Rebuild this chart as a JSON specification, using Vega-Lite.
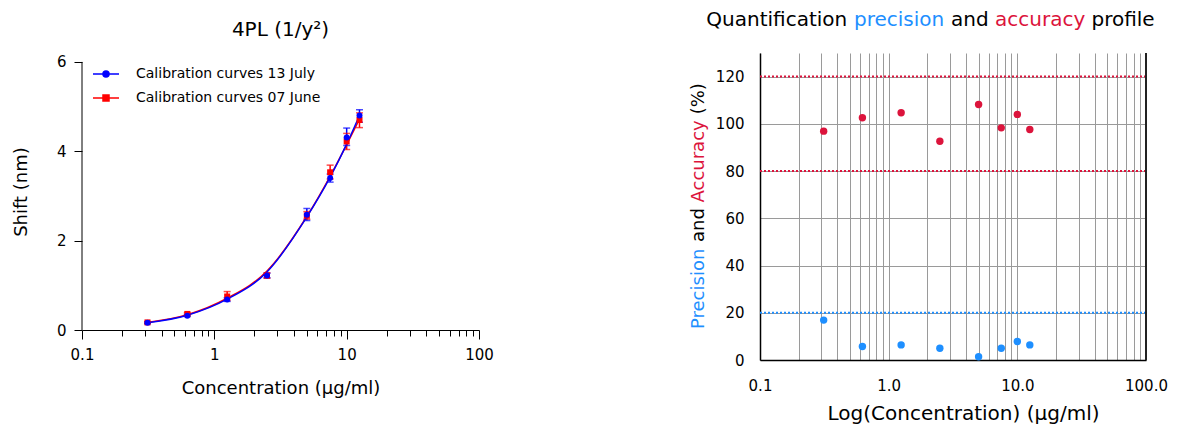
{
  "$schema": "https://vega.github.io/schema/vega-lite/v6.json",
  "padding": {"left": 12, "top": 10, "right": 5, "bottom": 5},
  "spacing": 195,
  "resolve": {"scale": {"color": "independent"}, "legend": {"color": "independent"}},
  "config": {
    "font": "DejaVu Sans",
    "view": {"stroke": null},
    "axis": {"labelFont": "DejaVu Sans", "titleFont": "DejaVu Sans", "labelColor": "#000", "titleColor": "#000", "titleFontWeight": "normal", "domainColor": "#000", "tickColor": "#000"},
    "legend": {"labelFont": "DejaVu Sans"}
  },
  "datasets": {
    "calib": [
      {"series": "Calibration curves 07 June", "conc": 0.3125, "shift": 0.17, "lo": 0.15, "hi": 0.19, "fit": 0.17},
      {"series": "Calibration curves 07 June", "conc": 0.625, "shift": 0.36, "lo": 0.33, "hi": 0.39, "fit": 0.34},
      {"series": "Calibration curves 07 June", "conc": 1.25, "shift": 0.75, "lo": 0.66, "hi": 0.86, "fit": 0.71},
      {"series": "Calibration curves 07 June", "conc": 2.5, "shift": 1.22, "lo": 1.16, "hi": 1.28, "fit": 1.32},
      {"series": "Calibration curves 07 June", "conc": 5, "shift": 2.56, "lo": 2.48, "hi": 2.65, "fit": 2.54},
      {"series": "Calibration curves 07 June", "conc": 7.5, "shift": 3.53, "lo": 3.38, "hi": 3.69, "fit": 3.44},
      {"series": "Calibration curves 07 June", "conc": 10, "shift": 4.22, "lo": 4.04, "hi": 4.40, "fit": 4.15},
      {"series": "Calibration curves 07 June", "conc": 12.5, "shift": 4.70, "lo": 4.53, "hi": 4.86, "fit": 4.72},
      {"series": "Calibration curves 13 July", "conc": 0.3125, "shift": 0.16, "lo": 0.14, "hi": 0.18, "fit": 0.16},
      {"series": "Calibration curves 13 July", "conc": 0.625, "shift": 0.32, "lo": 0.30, "hi": 0.35, "fit": 0.33},
      {"series": "Calibration curves 13 July", "conc": 1.25, "shift": 0.68, "lo": 0.64, "hi": 0.72, "fit": 0.69},
      {"series": "Calibration curves 13 July", "conc": 2.5, "shift": 1.22, "lo": 1.17, "hi": 1.27, "fit": 1.30},
      {"series": "Calibration curves 13 July", "conc": 5, "shift": 2.58, "lo": 2.45, "hi": 2.72, "fit": 2.53},
      {"series": "Calibration curves 13 July", "conc": 7.5, "shift": 3.40, "lo": 3.31, "hi": 3.49, "fit": 3.42},
      {"series": "Calibration curves 13 July", "conc": 10, "shift": 4.31, "lo": 4.13, "hi": 4.52, "fit": 4.16},
      {"series": "Calibration curves 13 July", "conc": 12.5, "shift": 4.80, "lo": 4.65, "hi": 4.93, "fit": 4.80}
    ],
    "profile": [
      {"conc": 0.3125, "accuracy": 96.9, "precision": 16.9},
      {"conc": 0.625, "accuracy": 102.6, "precision": 5.7},
      {"conc": 1.25, "accuracy": 104.7, "precision": 6.4},
      {"conc": 2.5, "accuracy": 92.6, "precision": 5.0},
      {"conc": 5, "accuracy": 108.2, "precision": 1.4},
      {"conc": 7.5, "accuracy": 98.3, "precision": 5.0},
      {"conc": 10, "accuracy": 104.0, "precision": 7.8},
      {"conc": 12.5, "accuracy": 97.6, "precision": 6.4}
    ],
    "limits": [
      {"limit": 120, "kind": "accuracy"},
      {"limit": 80, "kind": "accuracy"},
      {"limit": 20, "kind": "precision"}
    ],
    "one": [{}]
  },
  "hconcat": [
    {
      "width": 397,
      "height": 277,
      "title": {"text": "4PL (1/y²)", "fontSize": 20, "fontWeight": "normal", "frame": "group", "anchor": "middle", "offset": 13, "font": "DejaVu Sans", "color": "#000"},
      "data": {"name": "calib"},
      "layer": [
        {
          "data": {"name": "one"},
          "mark": {"type": "rule", "color": "#000", "strokeWidth": 1},
          "encoding": {
            "x": {"datum": 0.1, "type": "quantitative", "scale": {"type": "log", "domain": [0.1, 100], "nice": false}},
            "y": {"datum": 0, "type": "quantitative"},
            "y2": {"datum": 6}
          }
        },
        {
          "mark": {"type": "rule", "strokeWidth": 1.5},
          "encoding": {
            "x": {"field": "conc", "type": "quantitative", "scale": {"type": "log", "domain": [0.1, 100], "nice": false}},
            "y": {"field": "lo", "type": "quantitative"},
            "y2": {"field": "hi"},
            "color": {"field": "series", "type": "nominal", "scale": {"domain": ["Calibration curves 13 July", "Calibration curves 07 June"], "range": ["#0000ff", "#ff0000"]}}
          }
        },
        {
          "mark": {"type": "tick", "orient": "horizontal", "size": 7, "thickness": 1.5},
          "encoding": {
            "x": {"field": "conc", "type": "quantitative", "scale": {"type": "log", "domain": [0.1, 100], "nice": false}},
            "y": {"field": "lo", "type": "quantitative"},
            "color": {"field": "series", "type": "nominal"}
          }
        },
        {
          "mark": {"type": "tick", "orient": "horizontal", "size": 7, "thickness": 1.5},
          "encoding": {
            "x": {"field": "conc", "type": "quantitative", "scale": {"type": "log", "domain": [0.1, 100], "nice": false}},
            "y": {"field": "hi", "type": "quantitative"},
            "color": {"field": "series", "type": "nominal"}
          }
        },
        {
          "mark": {"type": "line", "strokeWidth": 1.5, "interpolate": "monotone"},
          "encoding": {
            "x": {
              "field": "conc", "type": "quantitative",
              "scale": {"type": "log", "domain": [0.1, 100], "nice": false},
              "axis": {
                "values": [0.1, 0.2, 0.3, 0.4, 0.5, 0.6, 0.7, 0.8, 0.9, 1, 2, 3, 4, 5, 6, 7, 8, 9, 10, 20, 30, 40, 50, 60, 70, 80, 90, 100],
                "format": "~g",
                "labelExpr": "indexof([0.1, 1, 10, 100], datum.value) >= 0 ? datum.label : ''",
                "tickSize": {"condition": {"test": "indexof([0.1, 1, 10, 100], datum.value) >= 0", "value": 9}, "value": 6},
                "labelPadding": 8,
                "labelFontSize": 15,
                "labelFlush": false,
                "labelOverlap": false,
                "grid": false,
                "title": "Concentration (µg/ml)",
                "titleFontSize": 18,
                "titlePadding": 17
              }
            },
            "y": {
              "field": "fit", "type": "quantitative",
              "scale": {"domain": [0, 6.2], "nice": false},
              "axis": {
                "values": [0, 2, 4, 6],
                "domain": false,
                "grid": false,
                "tickSize": 8,
                "labelPadding": 8,
                "labelFontSize": 15,
                "title": "Shift (nm)",
                "titleFontSize": 18,
                "titlePadding": 26
              }
            },
            "color": {
              "field": "series", "type": "nominal",
              "legend": {
                "title": null,
                "orient": "none",
                "legendX": 17,
                "legendY": 14,
                "padding": 0,
                "labelFontSize": 14,
                "labelColor": "#000",
                "labelLimit": 400,
                "symbolSize": 100,
                "labelOffset": 23,
                "rowPadding": 10,
                "symbolStrokeWidth": 1.5,
                "encode": {
                  "symbols": {
                    "update": {
                      "shape": {"signal": "datum.value == 'Calibration curves 13 July' ? 'M-2.6,0H2.6M-0.6,0A0.6,0.6,0,1,1,0.6,0A0.6,0.6,0,1,1,-0.6,0Z' : 'M-2.6,0H2.6M-0.6,-0.6H0.6V0.6H-0.6Z'"},
                      "fill": {"signal": "datum.value == 'Calibration curves 13 July' ? '#0000ff' : '#ff0000'"},
                      "stroke": {"signal": "datum.value == 'Calibration curves 13 July' ? '#0000ff' : '#ff0000'"},
                      "fillOpacity": {"value": 1}
                    }
                  }
                }
              }
            }
          }
        },
        {
          "transform": [{"filter": "datum.series == 'Calibration curves 07 June'"}],
          "mark": {"type": "point", "shape": "square", "filled": true, "opacity": 1, "size": 36},
          "encoding": {
            "x": {"field": "conc", "type": "quantitative", "scale": {"type": "log", "domain": [0.1, 100], "nice": false}},
            "y": {"field": "shift", "type": "quantitative"},
            "color": {"field": "series", "type": "nominal"}
          }
        },
        {
          "transform": [{"filter": "datum.series == 'Calibration curves 13 July'"}],
          "mark": {"type": "point", "shape": "circle", "filled": true, "opacity": 1, "size": 36},
          "encoding": {
            "x": {"field": "conc", "type": "quantitative", "scale": {"type": "log", "domain": [0.1, 100], "nice": false}},
            "y": {"field": "shift", "type": "quantitative"},
            "color": {"field": "series", "type": "nominal"}
          }
        }
      ]
    },
    {
      "width": 386,
      "height": 307,
      "data": {"name": "profile"},
      "layer": [
        {
          "data": {"name": "limits"},
          "transform": [{"filter": "datum.kind == 'accuracy'"}],
          "mark": {"type": "rule", "strokeWidth": 2, "strokeDash": [2, 2], "color": "#dc143c"},
          "encoding": {
            "y": {
              "field": "limit", "type": "quantitative",
              "scale": {"domain": [0, 130], "nice": false},
              "axis": {
                "values": [0, 10, 20, 30, 40, 50, 60, 70, 80, 90, 100, 110, 120, 130],
                "labelExpr": "datum.value % 20 == 0 && datum.value < 130 ? datum.label : ''",
                "grid": true,
                "gridColor": "#9a9a9a",
                "ticks": false,
                "tickSize": 0,
                "labelPadding": 16,
                "labelFontSize": 15,
                "domainColor": "#000",
                "domainWidth": 1.5,
                "title": null
              }
            }
          }
        },
        {
          "data": {"name": "limits"},
          "transform": [{"filter": "datum.kind == 'precision'"}],
          "mark": {"type": "rule", "strokeWidth": 2, "strokeDash": [2, 2], "color": "#1e8fff"},
          "encoding": {
            "y": {"field": "limit", "type": "quantitative"}
          }
        },
        {
          "mark": {"type": "point", "shape": "circle", "filled": true, "opacity": 1, "size": 55, "color": "#dc143c"},
          "encoding": {
            "x": {
              "field": "conc", "type": "quantitative",
              "scale": {"type": "log", "domain": [0.1, 100], "nice": false},
              "axis": {
                "values": [0.1, 0.2, 0.3, 0.4, 0.5, 0.6, 0.7, 0.8, 0.9, 1, 2, 3, 4, 5, 6, 7, 8, 9, 10, 20, 30, 40, 50, 60, 70, 80, 90, 100],
                "format": ".1f",
                "labelExpr": "indexof([0.1, 1, 10, 100], datum.value) >= 0 ? datum.label : ''",
                "labelFlush": false,
                "labelOverlap": false,
                "grid": true,
                "gridColor": "#9a9a9a",
                "ticks": false,
                "tickSize": 0,
                "labelPadding": 18,
                "labelFontSize": 15,
                "domainColor": "#000",
                "domainWidth": 1.5,
                "title": "Log(Concentration) (µg/ml)",
                "titleFontSize": 20,
                "titlePadding": 10,
                "titleX": 203
              }
            },
            "y": {"field": "accuracy", "type": "quantitative"}
          }
        },
        {
          "mark": {"type": "point", "shape": "circle", "filled": true, "opacity": 1, "size": 55, "color": "#1e8fff"},
          "encoding": {
            "x": {"field": "conc", "type": "quantitative", "scale": {"type": "log", "domain": [0.1, 100], "nice": false}},
            "y": {"field": "precision", "type": "quantitative"}
          }
        },
        {
          "data": {"name": "one"},
          "mark": {"type": "rule", "color": "#222", "strokeWidth": 2},
          "encoding": {
            "x": {"datum": 100, "type": "quantitative", "scale": {"type": "log", "domain": [0.1, 100], "nice": false}},
            "y": {"datum": 0, "type": "quantitative"},
            "y2": {"datum": 130}
          }
        },
        {
          "data": {"name": "one"},
          "mark": {"type": "text", "text": "Quantification", "fontSize": 20, "align": "left", "baseline": "alphabetic", "color": "#000", "dx": -53.7, "dy": -27},
          "encoding": {"x": {"datum": 0.1, "type": "quantitative", "scale": {"type": "log", "domain": [0.1, 100], "nice": false}}, "y": {"datum": 130, "type": "quantitative"}}
        },
        {
          "data": {"name": "one"},
          "mark": {"type": "text", "text": "precision", "fontSize": 20, "align": "left", "baseline": "alphabetic", "color": "#1e8fff", "dx": 94, "dy": -27},
          "encoding": {"x": {"datum": 0.1, "type": "quantitative", "scale": {"type": "log", "domain": [0.1, 100], "nice": false}}, "y": {"datum": 130, "type": "quantitative"}}
        },
        {
          "data": {"name": "one"},
          "mark": {"type": "text", "text": "and", "fontSize": 20, "align": "left", "baseline": "alphabetic", "color": "#000", "dx": 191, "dy": -27},
          "encoding": {"x": {"datum": 0.1, "type": "quantitative", "scale": {"type": "log", "domain": [0.1, 100], "nice": false}}, "y": {"datum": 130, "type": "quantitative"}}
        },
        {
          "data": {"name": "one"},
          "mark": {"type": "text", "text": "accuracy", "fontSize": 20, "align": "left", "baseline": "alphabetic", "color": "#dc143c", "dx": 235, "dy": -27},
          "encoding": {"x": {"datum": 0.1, "type": "quantitative", "scale": {"type": "log", "domain": [0.1, 100], "nice": false}}, "y": {"datum": 130, "type": "quantitative"}}
        },
        {
          "data": {"name": "one"},
          "mark": {"type": "text", "text": "profile", "fontSize": 20, "align": "left", "baseline": "alphabetic", "color": "#000", "dx": 331.5, "dy": -27},
          "encoding": {"x": {"datum": 0.1, "type": "quantitative", "scale": {"type": "log", "domain": [0.1, 100], "nice": false}}, "y": {"datum": 130, "type": "quantitative"}}
        },
        {
          "data": {"name": "one"},
          "mark": {"type": "text", "text": "Precision", "fontSize": 18, "angle": 270, "align": "left", "baseline": "alphabetic", "color": "#1e8fff", "dx": 31, "dy": -56},
          "encoding": {"x": {"datum": 0.1, "type": "quantitative", "scale": {"type": "log", "domain": [0.1, 100], "nice": false}}, "y": {"datum": 0, "type": "quantitative"}}
        },
        {
          "data": {"name": "one"},
          "mark": {"type": "text", "text": "and", "fontSize": 18, "angle": 270, "align": "left", "baseline": "alphabetic", "color": "#000", "dx": 118, "dy": -56},
          "encoding": {"x": {"datum": 0.1, "type": "quantitative", "scale": {"type": "log", "domain": [0.1, 100], "nice": false}}, "y": {"datum": 0, "type": "quantitative"}}
        },
        {
          "data": {"name": "one"},
          "mark": {"type": "text", "text": "Accuracy", "fontSize": 18, "angle": 270, "align": "left", "baseline": "alphabetic", "color": "#dc143c", "dx": 157.5, "dy": -56},
          "encoding": {"x": {"datum": 0.1, "type": "quantitative", "scale": {"type": "log", "domain": [0.1, 100], "nice": false}}, "y": {"datum": 0, "type": "quantitative"}}
        },
        {
          "data": {"name": "one"},
          "mark": {"type": "text", "text": "(%)", "fontSize": 18, "angle": 270, "align": "left", "baseline": "alphabetic", "color": "#000", "dx": 245.7, "dy": -56},
          "encoding": {"x": {"datum": 0.1, "type": "quantitative", "scale": {"type": "log", "domain": [0.1, 100], "nice": false}}, "y": {"datum": 0, "type": "quantitative"}}
        }
      ]
    }
  ]
}
